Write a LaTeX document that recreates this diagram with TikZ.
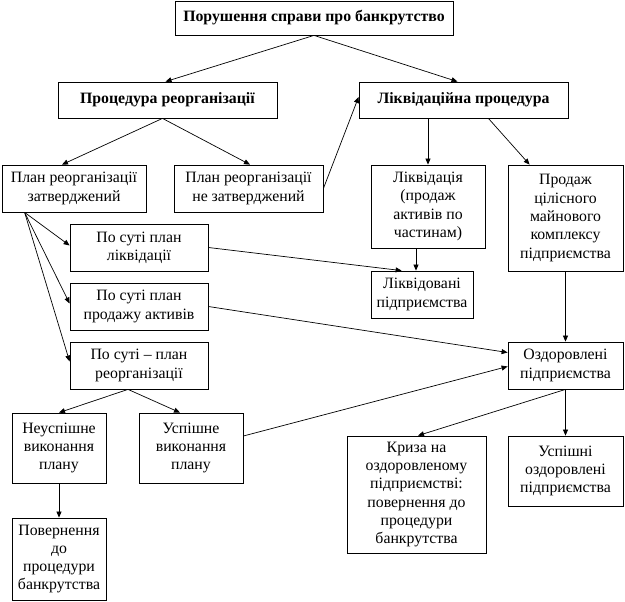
\documentclass[tikz,border=0pt]{standalone}
\usepackage{fontspec}
\setmainfont{Liberation Serif}
\usetikzlibrary{arrows.meta,calc}
\begin{document}
\begin{tikzpicture}[x=1pt,y=-1pt,
  box/.style={draw,line width=0.8pt,inner sep=0pt,align=center,
    font=\fontsize{15.8}{18.3}\selectfont},
  conn/.style={line width=0.7pt,-{Triangle[length=6pt,width=5pt]}},
  ]
\useasboundingbox (0,0) rectangle (625,602);
\node[box,minimum width=278,minimum height=34] (top) at (314,18) {\textbf{Порушення справи про банкрутство}};
\node[box,minimum width=219,minimum height=36] (proc) at (167.5,100) {\textbf{Процедура реорганізації}};
\node[box,minimum width=209,minimum height=36] (likv) at (463.5,100) {\textbf{Ліквідаційна процедура}};
\node[box,minimum width=144,minimum height=47] (plan1) at (74,188.5) {План реорганізації\\затверджений};
\node[box,minimum width=149,minimum height=47] (plan2) at (248.5,188.5) {План реорганізації\\не затверджений};
\node[box,minimum width=114,minimum height=83] (likvid) at (428,206.5) {Ліквідація\\(продаж\\активів по\\частинам)};
\node[box,minimum width=115,minimum height=106] (prodazh) at (565.5,218) {Продаж\\цілісного\\майнового\\комплексу\\підприємства};
\node[box,minimum width=138,minimum height=47] (ps1) at (139,247.5) {По суті план\\ліквідації};
\node[box,minimum width=138,minimum height=47] (ps2) at (139,306.5) {По суті план\\продажу активів};
\node[box,minimum width=138,minimum height=47] (ps3) at (139,365.5) {По суті – план\\реорганізації};
\node[box,minimum width=102,minimum height=47] (likvpid) at (422,294.5) {Ліквідовані\\підприємства};
\node[box,minimum width=115,minimum height=47] (ozd) at (565.5,365.5) {Оздоровлені\\підприємства};
\node[box,minimum width=94,minimum height=70] (neusp) at (59,448) {Неуспішне\\виконання\\плану};
\node[box,minimum width=104,minimum height=70] (usp) at (191,448) {Успішне\\виконання\\плану};
\node[box,minimum width=139,minimum height=117] (kryza) at (416.5,494.5) {Криза на\\оздоровленому\\підприємстві:\\повернення до\\процедури\\банкрутства};
\node[box,minimum width=115,minimum height=70] (uspishni) at (565.5,471) {Успішні\\оздоровлені\\підприємства};
\node[box,minimum width=94,minimum height=82] (povern) at (59,559) {Повернення\\до\\процедури\\банкрутства};

\draw[conn] (top.south) -- ($(proc.north)+(-2,0)$);
\draw[conn] (top.south) -- ($(likv.north)+(-6,0)$);
\draw[conn] ($(proc.south)+(-5,0)$) -- ($(plan1.north)+(-12,0)$);
\draw[conn] ($(proc.south)+(-5,0)$) -- ($(plan2.north)+(1.5,0)$);
\draw[conn] (plan2.east) -- ($(likv.west)+(0,-3)$);
\draw[conn] (likv.south -| likvid.north) -- (likvid.north);
\draw[conn] ($(likv.south east)+(-80,0)$) -- ($(prodazh.north west)+(22,0)$);
\coordinate (lp) at ($(likvpid.north)+(-6,0)$);
\draw[conn] (likvid.south -| lp) -- (lp);
\coordinate (pfrom) at ($(plan1.south west)+(23,0)$);
\draw[conn] (pfrom) -- ($(ps1.west)+(0,-2)$);
\draw[conn] (pfrom) -- ($(ps2.west)+(0,-3)$);
\draw[conn] (pfrom) -- ($(ps3.west)+(0,-4)$);
\draw[conn] (ps1.east) -- ($(likvpid.north west)+(31,0)$);
\draw[conn] (ps2.east) -- ($(ozd.west)+(0,-13)$);
\draw[conn] (prodazh.south) -- (ozd.north);
\draw[conn] ($(usp.east)+(0,-12)$) -- ($(ozd.west)+(0,1)$);
\draw[conn] ($(ps3.south)+(-11,0)$) -- (neusp.north);
\draw[conn] ($(ps3.south)+(-11,0)$) -- ($(usp.north)+(-11,0)$);
\draw[conn] (neusp.south) -- (povern.north);
\draw[conn] (ozd.south) -- (uspishni.north);
\draw[conn] (ozd.south) -- ($(kryza.north)+(1.5,0)$);
\end{tikzpicture}
\end{document}
